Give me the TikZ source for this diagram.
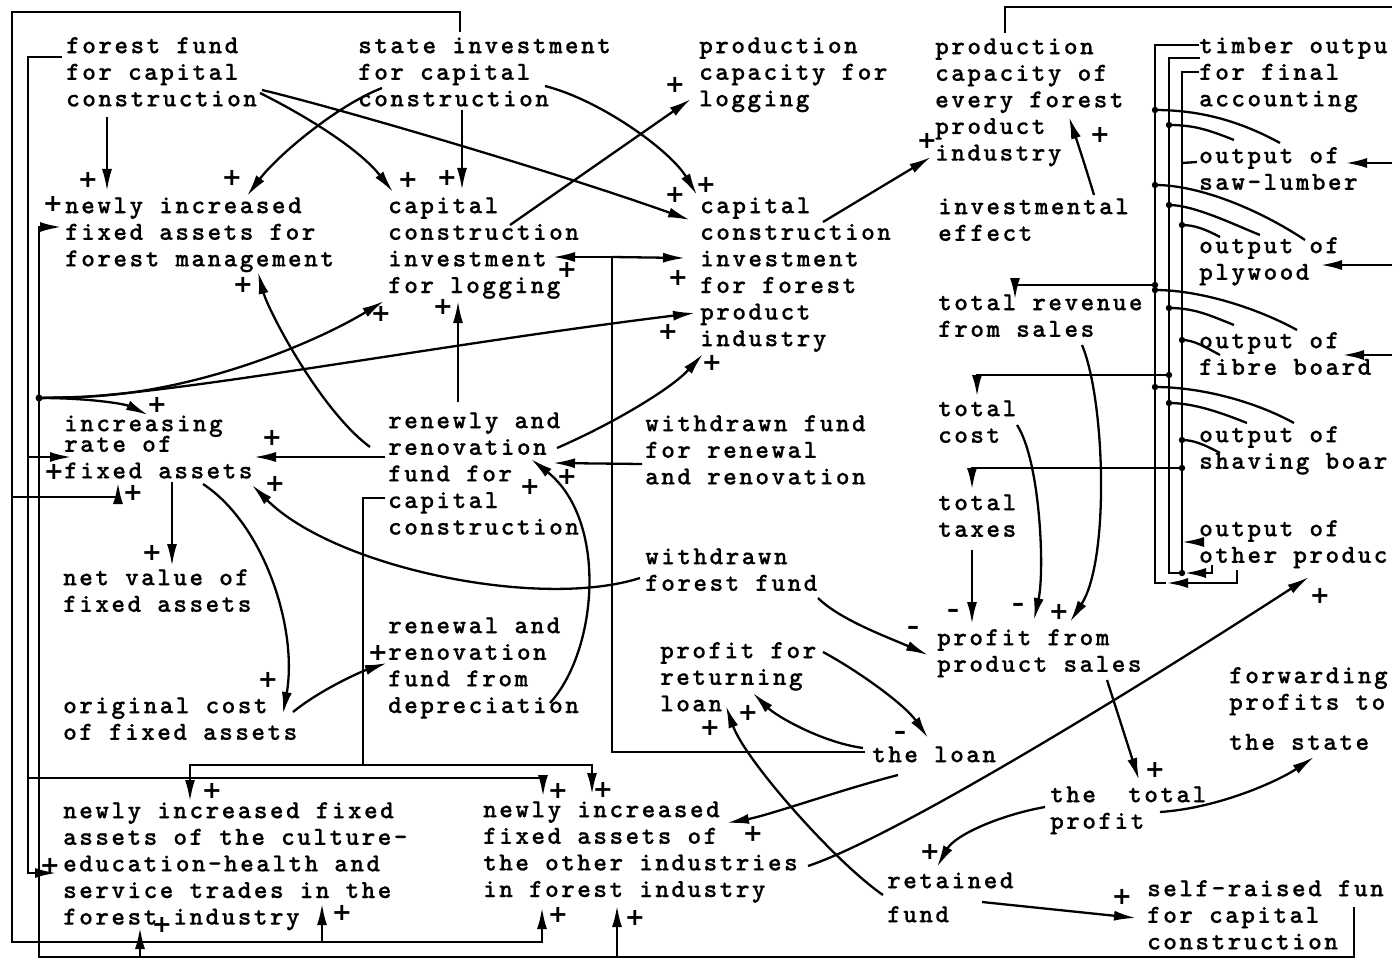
\documentclass[tikz,border=0pt]{standalone}
\usepackage{fontspec}
\usetikzlibrary{arrows.meta}
\newfontfamily\tw{lmmonolt10-bold.otf}[LetterSpace=9.4,FakeBold=0.6]
\newfontfamily\sgn{DejaVu Sans}
\begin{document}
\begin{tikzpicture}[x=1pt,y=-1pt,
 lbl/.style={anchor=north west, inner sep=0pt, align=left, font=\tw\fontsize{26}{26.6}\selectfont},
 pl/.style={inner sep=0pt, font=\sgn\bfseries\fontsize{24}{24}\selectfont},
 ln/.style={line width=2.3pt},
 br/.style={line width=2.8pt},
 ar/.style={line width=2.3pt, -{Latex[length=22pt,width=10pt]}},
 bar/.style={line width=2.8pt, -{Latex[length=22pt,width=10pt]}},
 jdot/.style={fill=black}]
\useasboundingbox (0,0) rectangle (1397,960);
\fill[white] (0,0) rectangle (1397,960);

% ---------- text blocks ----------
\node[lbl] (ffund) at (66,33) {\rule{0pt}{20pt}forest fund\\for capital\\construction};
\node[lbl] (state) at (358,33) {\rule{0pt}{20pt}state investment\\for capital\\construction};
\node[lbl] (pclog) at (699,33) {\rule{0pt}{20pt}production\\capacity for\\logging};
\node[lbl] (pcfp) at (935,34) {\rule{0pt}{20pt}production\\capacity of\\every forest\\product\\industry};
\node[lbl] (timber) at (1199,33) {\rule{0pt}{20pt}timber outpu\\for final\\accounting};
\node[lbl] (nfm) at (65,193) {\rule{0pt}{20pt}newly increased\\fixed assets for\\forest management};
\node[lbl] (ccl) at (388,193) {\rule{0pt}{20pt}capital\\construction\\investment\\for logging};
\node[lbl] (ccfp) at (700,193) {\rule{0pt}{20pt}capital\\construction\\investment\\for forest\\product\\industry};
\node[lbl] (effect) at (938,194) {\rule{0pt}{20pt}investmental\\effect};
\node[lbl] (rev) at (938,290) {\rule{0pt}{20pt}total revenue\\from sales};
\node[lbl] (cost) at (938,396) {\rule{0pt}{20pt}total\\cost};
\node[lbl] (taxes) at (938,490) {\rule{0pt}{20pt}total\\taxes};
\node[lbl] (incr) at (64,411) {\rule{0pt}{20pt}increasing\\[-6pt]rate of\\fixed assets};
\node[lbl] (renewly) at (388,408) {\rule{0pt}{20pt}renewly and\\renovation\\fund for\\capital\\construction};
\node[lbl] (wfrr) at (645,411) {\rule{0pt}{20pt}withdrawn fund\\for renewal\\and renovation};
\node[lbl] (wff) at (645,544) {\rule{0pt}{20pt}withdrawn\\forest fund};
\node[lbl] (netv) at (63,565) {\rule{0pt}{20pt}net value of\\fixed assets};
\node[lbl] (orig) at (63,693) {\rule{0pt}{20pt}original cost\\of fixed assets};
\node[lbl] (rdep) at (388,613) {\rule{0pt}{20pt}renewal and\\renovation\\fund from\\depreciation};
\node[lbl] (prl) at (660,638) {\rule{0pt}{20pt}profit for\\returning\\loan};
\node[lbl] (pps) at (937,625) {\rule{0pt}{20pt}profit from\\product sales};
\node[lbl] (loan) at (872,742) {\rule{0pt}{20pt}the loan};
\node[lbl] (fwd) at (1229,663) {\rule{0pt}{20pt}forwarding\\profits to\\[13.4pt]the state};
\node[lbl] (tp) at (1050,782) {\rule{0pt}{20pt}the\ \ total\\profit};
\node[lbl] (ret) at (887,868) {\rule{0pt}{20pt}retained\\[7.4pt]fund};
\node[lbl] (self) at (1147,876) {\rule{0pt}{20pt}self-raised fun\\for capital\\construction};
\node[lbl] (cult) at (63,798) {\rule{0pt}{20pt}newly increased fixed\\assets of the culture-\\education-health and\\service trades in the\\forest industry};
\node[lbl] (oth) at (483,797) {\rule{0pt}{20pt}newly increased\\fixed assets of\\the other industries\\in forest industry};
\node[lbl] (saw) at (1199,143) {\rule{0pt}{20pt}output of\\saw-lumber};
\node[lbl] (ply) at (1199,233) {\rule{0pt}{20pt}output of\\plywood};
\node[lbl] (fib) at (1199,328) {\rule{0pt}{20pt}output of\\fibre board};
\node[lbl] (shv) at (1199,422) {\rule{0pt}{20pt}output of\\shaving boar};
\node[lbl] (othp) at (1199,516) {\rule{0pt}{20pt}output of\\other produc};

% ---------- junction coordinates ----------
\coordinate (jlo) at (612,257);
\coordinate (jt1) at (1155,285);
\coordinate (jt2) at (1169,375);
\coordinate (jt3) at (1182,468);
\coordinate (jI) at (39,398);
\coordinate (jb1) at (140,957);
\coordinate (jb2) at (617,957);
\coordinate (jM1) at (28,457);
\coordinate (jM2) at (28,778);
\coordinate (jO1) at (12,497);
\coordinate (jO2) at (322,942);
\coordinate (jR) at (363,765);
\coordinate (eR) at (1392,7);
\coordinate (eS) at (1392,163);
\coordinate (eP) at (1392,265);
\coordinate (eF) at (1392,355);
\coordinate (jr1) at (1166,583);
\coordinate (jr2) at (1184,573);
\coordinate (jr3) at (1182,573);
\coordinate (jr4) at (1182,542);
\coordinate (b11) at (1155,110);
\coordinate (b12) at (1169,125);
\coordinate (b13) at (1182,163);
\coordinate (b21) at (1155,185);
\coordinate (b22) at (1169,205);
\coordinate (b23) at (1182,225);
\coordinate (b31) at (1155,290);
\coordinate (b32) at (1169,308);
\coordinate (b33) at (1182,340);
\coordinate (b41) at (1155,387);
\coordinate (b42) at (1169,403);
\coordinate (b43) at (1182,440);

% ---------- connectors ----------
\draw[ar] ([shift={(41,84)}]ffund.north west) -- ([shift={(42,-2)}]nfm.north west);
\draw[ar] ([shift={(194,60)}]ffund.north west) .. controls (310,118) and (360,150) .. ([shift={(5,-1)}]ccl.north west);
\draw[ar] ([shift={(196,57)}]ffund.north west) .. controls (330,106) and (550,170) .. ([shift={(-10,27)}]ccfp.north west);
\draw[ar] ([shift={(24,55)}]state.north west) .. controls (336,106) and (277,156) .. ([shift={(182,3)}]nfm.north west);
\draw[ar] ([shift={(104,77)}]state.north west) -- ([shift={(74,-3)}]ccl.north west);
\draw[ar] ([shift={(187,53)}]state.north west) .. controls (600,100) and (670,150) .. ([shift={(-3,2)}]ccfp.north west);
\draw[ar] ([shift={(122,32)}]ccl.north west) -- ([shift={(-8,66)}]pclog.north west);
\draw[ar] ([shift={(123,29)}]ccfp.north west) -- ([shift={(-4,123)}]pcfp.north west);
\draw[ar] ([shift={(156,1)}]effect.north west) .. controls (1085,165) and (1075,135) .. ([shift={(134,83)}]pcfp.north west);

\draw[ar] ([shift={(-7,10)}]loan.north west) -- (612,752) -- (jlo) -- ([shift={(165,64)}]ccl.north west);
\draw[ar] (jlo) -- ([shift={(-15,65)}]ccfp.north west);
\draw[ar] ([shift={(-9,6)}]loan.north west) .. controls (820,742) and (775,715) .. ([shift={(93,55)}]prl.north west);
\draw[ar] ([shift={(163,14)}]prl.north west) .. controls (860,672) and (905,705) .. ([shift={(56,-4)}]loan.north west);
\draw[ar] ([shift={(26,33)}]loan.north west) .. controls (840,790) and (770,815) .. ([shift={(244,26)}]oth.north west);
\draw[ar] ([shift={(-4,27)}]ret.north west) .. controls (835,862) and (745,760) .. ([shift={(66,68)}]prl.north west);
\draw[ar] ([shift={(325,69)}]oth.north west) .. controls (900,835) and (1150,680) .. ([shift={(110,61)}]othp.north west);
\draw[ar] ([shift={(-5,25)}]tp.north west) .. controls (1000,815) and (955,835) .. ([shift={(50,-1)}]ret.north west);
\draw[ar] ([shift={(95,34)}]ret.north west) -- ([shift={(-11,42)}]self.north west);
\draw[ar] ([shift={(110,30)}]tp.north west) .. controls (1220,808) and (1280,780) .. ([shift={(85,94)}]fwd.north west);
\draw[ar] ([shift={(170,55)}]pps.north west) -- ([shift={(89,-2)}]tp.north west);
\draw[ar] ([shift={(173,54)}]wff.north west) .. controls (840,620) and (890,638) .. ([shift={(-9,30)}]pps.north west);
\draw[ar] ([shift={(34,60)}]taxes.north west) -- ([shift={(35,-1)}]pps.north west);
\draw[ar] ([shift={(79,29)}]cost.north west) .. controls (1040,460) and (1045,570) .. ([shift={(97,-5)}]pps.north west);
\draw[ar] ([shift={(144,55)}]rev.north west) .. controls (1105,400) and (1110,560) .. ([shift={(133,-3)}]pps.north west);
\draw[bar] (jt1) -| ([shift={(77,10)}]rev.north west);
\draw[bar] (jt2) -| ([shift={(39,1)}]cost.north west);
\draw[bar] (jt3) -| ([shift={(34,0)}]taxes.north west);

\draw[ar] ([shift={(-5,34)}]wff.north west) .. controls (540,610) and (335,568) .. ([shift={(188,74)}]incr.north west);
\draw[ar] ([shift={(-3,49)}]renewly.north west) -- ([shift={(190,46)}]incr.north west);
\draw[ar] ([shift={(-18,39)}]renewly.north west) .. controls (320,410) and (268,310) .. ([shift={(193,79)}]nfm.north west);
\draw[ar] ([shift={(70,-6)}]renewly.north west) -- ([shift={(70,108)}]ccl.north west);
\draw[ar] ([shift={(169,40)}]renewly.north west) .. controls (610,425) and (670,390) .. ([shift={(3,161)}]ccfp.north west);
\draw[ar] ([shift={(-3,53)}]wfrr.north west) -- ([shift={(165,55)}]renewly.north west);
\draw[ar] ([shift={(162,90)}]rdep.north west) .. controls (598,650) and (608,520) .. ([shift={(143,51)}]renewly.north west);
\draw[ar] ([shift={(230,19)}]orig.north west) .. controls (320,690) and (360,672) .. ([shift={(-1,50)}]rdep.north west);
\draw[ar] ([shift={(139,73)}]incr.north west) .. controls (265,525) and (298,630) .. ([shift={(220,21)}]orig.north west);
\draw[ar] ([shift={(108,71)}]incr.north west) -- ([shift={(109,1)}]netv.north west);

% inner line: self-raised fund
\draw[bar] ([shift={(207,31)}]self.north west) -- (1354,957) -- (39,957) -- (39,227) -- ([shift={(-3,34)}]nfm.north west);
\draw[bar] (jb1) -- ([shift={(77,129)}]cult.north west);
\draw[bar] (jb2) -- ([shift={(134,108)}]oth.north west);
\draw[ar] (jI) .. controls (90,398) and (125,404) .. ([shift={(84,4)}]incr.north west);
\draw[ar] (jI) -- (80,397) .. controls (200,393) and (320,340) .. ([shift={(-4,108)}]ccl.north west);
\draw[ar] (jI) -- (80,397) .. controls (200,390) and (450,343) .. ([shift={(-5,120)}]ccfp.north west);
\fill[jdot] (jI) circle[radius=3.5pt];

% middle line: forest fund
\draw[bar] ([shift={(-4,24)}]ffund.north west) -- (28,57) -- (28,873) -- ([shift={(-6,75)}]cult.north west);
\draw[bar] (jM1) -- ([shift={(8,46)}]incr.north west);
\draw[bar] (jM2) -- (543,778) -- ([shift={(60,0)}]oth.north west);

% outer line: state investment
\draw[bar] ([shift={(102,-1)}]state.north west) -- (460,12) -- (12,12) -- (12,942) -- (542,942) -- ([shift={(59,110)}]oth.north west);
\draw[bar] (jO1) -- (118,497) -- ([shift={(54,71)}]incr.north west);
\draw[bar] (jO2) -- ([shift={(259,105)}]cult.north west);

% renewly fund bracket
\draw[br] ([shift={(-3,90)}]renewly.north west) -- (363,498) -- (jR);
\draw[bar] (jR) -- (190,765) -- ([shift={(127,4)}]cult.north west);
\draw[bar] (jR) -- (592,765) -- ([shift={(109,-2)}]oth.north west);

% top right frame and right-edge arrows
\draw[br] ([shift={(70,-1)}]pcfp.north west) -- (1005,7) -- (eR);
\draw[bar] (eS) -- ([shift={(146,20)}]saw.north west);
\draw[bar] (eP) -- ([shift={(121,32)}]ply.north west);
\draw[bar] (eF) -- ([shift={(143,27)}]fib.north west);

% bus lines
\draw[bar] ([shift={(38,54)}]othp.north west) -- (1237,583) -- (jr1);
\draw[br] (jr1) -- (1155,583) -- (1155,45) -- ([shift={(0,12)}]timber.north west);
\draw[bar] ([shift={(13,49)}]othp.north west) -- (1212,573) -- (jr2);
\draw[br] (jr2) -- (1169,573) -- (1169,58) -- ([shift={(1,25)}]timber.north west);
\draw[br] (jr3) -- (1182,72) -- ([shift={(0,39)}]timber.north west);
\draw[ar] ([shift={(5,26)}]othp.north west) -- (jr4);

\draw[ln] ([shift={(81,0)}]saw.north west) .. controls (1240,121) and (1200,110) .. (b11);
\draw[ln] ([shift={(35,-3)}]saw.north west) .. controls (1209,130) and (1194,125) .. (b12);
\draw[ln] ([shift={(-2,19)}]saw.north west) -- (b13);
\draw[ln] ([shift={(106,7)}]ply.north west) .. controls (1260,210) and (1200,185) .. (b21);
\draw[ln] ([shift={(61,2)}]ply.north west) .. controls (1235,225) and (1194,205) .. (b22);
\draw[ln] ([shift={(21,4)}]ply.north west) .. controls (1205,229) and (1194,225) .. (b23);
\draw[ln] ([shift={(98,2)}]fib.north west) .. controls (1257,308) and (1200,290) .. (b31);
\draw[ln] ([shift={(35,-3)}]fib.north west) .. controls (1209,315) and (1194,308) .. (b32);
\draw[ln] ([shift={(21,27)}]fib.north west) .. controls (1205,347) and (1194,340) .. (b33);
\draw[ln] ([shift={(95,1)}]shv.north west) .. controls (1254,401) and (1200,387) .. (b41);
\draw[ln] ([shift={(48,1)}]shv.north west) .. controls (1222,413) and (1194,403) .. (b42);
\draw[ln] ([shift={(21,31)}]shv.north west) .. controls (1205,445) and (1194,440) .. (b43);
\foreach \c in {jt1,jt2,jt3,jr3,b11,b12,b21,b22,b23,b31,b32,b33,b41,b42,b43}
  \fill[jdot] (\c) circle[radius=3.2pt];

% ---------- polarity signs ----------
\foreach \x/\y [count=\i] in {88/180, 232/178, 53/204, 408/180, 447/178, 675/85, 675/195, 706/185,
  927/141, 1100/135, 243/285, 567/270, 381/314, 443/307, 678/278, 668/332, 712/363,
  157/405, 272/438, 54/472, 133/493, 275/484, 530/487, 567/477, 152/553, 268/680,
  378/653, 710/728, 748/713, 753/834, 930/852, 1155/770, 1122/897, 1320/596,
  1059/612, 212/791, 50/866, 162/925, 342/913, 558/791, 603/790, 558/915, 635/918}
  \node[pl] (p\i) at (\x,\y) {+};
\foreach \x/\y [count=\i] in {953/613, 1018/607, 913/630, 900/735}
  \node[pl] (m\i) at (\x,\y) {\textendash};
\end{tikzpicture}
\end{document}
